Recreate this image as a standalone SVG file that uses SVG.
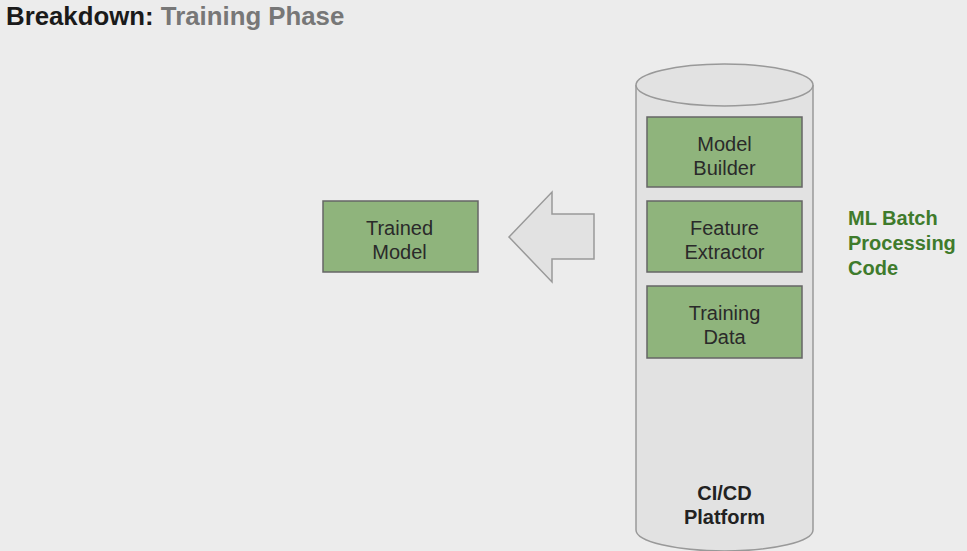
<svg xmlns="http://www.w3.org/2000/svg" width="967" height="551" viewBox="0 0 967 551">
<style>
text{font-family:"Liberation Sans",Arial,sans-serif;}
.box{fill:#8fb47c;stroke:#666;stroke-width:1.5;}
.lbl{font-size:20px;fill:#2a2a2a;text-anchor:middle;}
.shape{fill:#e2e2e2;stroke:#999;stroke-width:1.5;}
.green{font-size:20px;font-weight:bold;fill:#3f7b2c;}
</style>
<rect width="967" height="551" fill="#ececec"/>
<text x="6" y="25" font-size="25.8" font-weight="bold" fill="#1a1a1a">Breakdown: <tspan fill="#777">Training Phase</tspan></text>
<g id="cicd">
<path class="shape" d="M636,85 L636,530 A88.5,21 0 0 0 813,530 L813,85"/>
<ellipse class="shape" cx="724.5" cy="85" rx="88.5" ry="21"/>
<text class="lbl" x="724.5" y="500" font-weight="bold" style="fill:#222">CI/CD</text>
<text class="lbl" x="724.5" y="524" font-weight="bold" style="fill:#222">Platform</text>
</g>
<g id="model-builder">
<rect class="box" x="647" y="117" width="155" height="70"/>
<text class="lbl" x="724.5" y="151">Model</text>
<text class="lbl" x="724.5" y="175">Builder</text>
</g>
<g id="feature-extractor">
<rect class="box" x="647" y="201" width="155" height="71"/>
<text class="lbl" x="724.5" y="235">Feature</text>
<text class="lbl" x="724.5" y="259">Extractor</text>
</g>
<g id="training-data">
<rect class="box" x="647" y="286" width="155" height="72"/>
<text class="lbl" x="724.5" y="320">Training</text>
<text class="lbl" x="724.5" y="344">Data</text>
</g>
<g id="trained-model">
<rect class="box" x="323" y="201" width="155" height="71"/>
<text class="lbl" x="399.5" y="235">Trained</text>
<text class="lbl" x="399.5" y="259">Model</text>
</g>
<g id="ml-batch-label">
<text class="green" x="848" y="225">ML Batch</text>
<text class="green" x="848" y="250">Processing</text>
<text class="green" x="848" y="275">Code</text>
</g>
<g id="connectors">
<polygon class="shape" points="509,237 552,192 552,214 594,214 594,259 552,259 552,282"/>
</g>
</svg>
